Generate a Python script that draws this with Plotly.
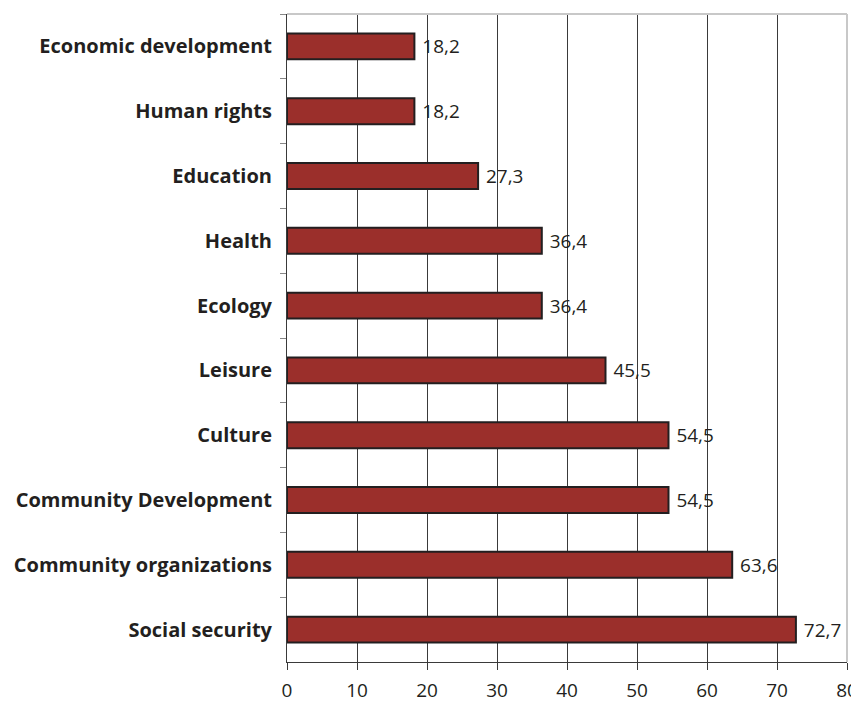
import plotly.graph_objects as go

categories = [
    "Economic development",
    "Human rights",
    "Education",
    "Health",
    "Ecology",
    "Leisure",
    "Culture",
    "Community Development",
    "Community organizations",
    "Social security",
]
values = [18.2, 18.2, 27.3, 36.4, 36.4, 45.5, 54.5, 54.5, 63.6, 72.7]
x_ticks = [0, 10, 20, 30, 40, 50, 60, 70, 80]

fig = go.Figure(
    go.Bar(
        x=values,
        y=categories,
        orientation="h",
        marker=dict(color="#9b2f2b", line=dict(color="#231f20", width=2)),
        texttemplate=" %{x:.1f}",
        textposition="outside",
        textfont=dict(family="Open Sans", size=19, color="#231f20"),
        cliponaxis=False,
    )
)

# page body has an 8px margin, so the figure is shifted by 8px
fig.update_layout(
    width=851,
    height=698,
    margin=dict(l=279, r=12, t=6, b=44),
    plot_bgcolor="white",
    paper_bgcolor="white",
    separators=", ",
    bargap=0.6,
    showlegend=False,
    xaxis=dict(
        range=[0, 80],
        tickvals=x_ticks,
        automargin=False,
        showgrid=True,
        gridcolor="#3a3a3a",
        gridwidth=1,
        showline=True,
        linecolor="#3a3a3a",
        linewidth=1,
        ticks="outside",
        ticklen=7,
        tickcolor="#3a3a3a",
        ticklabelstandoff=4,
        tickfont=dict(family="Open Sans", size=19, color="#231f20"),
        zeroline=False,
    ),
    yaxis=dict(
        autorange="reversed",
        automargin=False,
        showline=True,
        linecolor="#3a3a3a",
        linewidth=1,
        ticks="outside",
        tickson="boundaries",
        ticklen=6,
        tickcolor="#888888",
        showgrid=False,
        ticklabelstandoff=10,
        tickfont=dict(family="Open Sans", size=20, color="#231f20", weight="bold"),
    ),
    shapes=[
        dict(type="line", xref="paper", yref="paper", x0=0, x1=1, y0=1, y1=1,
             line=dict(color="#c8c8c8", width=2)),
        dict(type="line", xref="paper", yref="paper", x0=1, x1=1, y0=0, y1=1,
             line=dict(color="#c8c8c8", width=2)),
    ],
)

fig.write_html("out.html")
